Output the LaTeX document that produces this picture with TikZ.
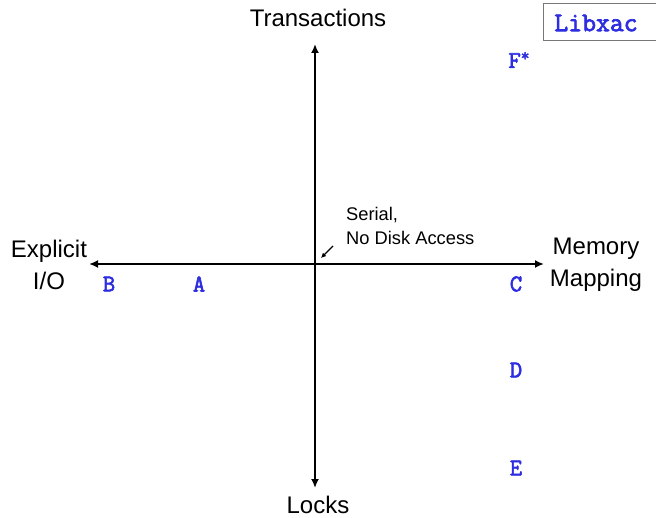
\documentclass[tikz,border=0pt]{standalone}
\usepackage{fontspec}
\setmainfont{Liberation Sans}
\newfontfamily\slabmono[FakeBold=2.6]{Latin Modern Mono}
\usetikzlibrary{arrows.meta}
\definecolor{letterblue}{RGB}{45,45,225}
\definecolor{boxgray}{RGB}{120,120,120}
\tikzset{
  axis/.style={line width=2.2pt, {Latex[length=9pt,width=8pt]}-{Latex[length=9pt,width=8pt]}},
  axislabel/.style={font=\fontsize{24}{32}\selectfont, align=center, inner sep=0pt},
  note/.style={font=\fontsize{18.3}{24}\selectfont, align=left, inner sep=0pt},
  letter/.style={font=\slabmono\fontsize{24}{24}\selectfont, text=letterblue, inner sep=0pt},
  pointer/.style={line width=1.4pt, -{Latex[length=5pt,width=5pt]}}
}
\begin{document}
\begin{tikzpicture}[x=1pt,y=-1pt]
\useasboundingbox (0,0) rectangle (656,518);
% axes
\coordinate (top) at (315,44);
\coordinate (bottom) at (315,488);
\coordinate (left) at (89,264);
\coordinate (right) at (544,264);
\draw[axis] (bottom) -- (top);
\draw[axis] (left) -- (right);
% axis labels
\node[axislabel] (trans) at (318,18) {Transactions};
\node[axislabel] (locks) at (318,505) {Locks};
\node[axislabel] (expl) at (49,265) {Explicit\\I/O};
\node[axislabel] (mmap) at (596,265) {Memory\\Mapping};
% note
\node[note, anchor=west] (serial) at (346,226) {Serial,\\No Disk Access};
\coordinate (ptip) at (321,258);
\coordinate (pstart) at (333,246);
\draw[pointer] (pstart) -- (ptip);
% Libxac box
\draw[boxgray, line width=1pt] (543,4) rectangle (662,41);
\node[letter, font=\slabmono\fontsize{27}{27}\selectfont] (libxac) at (596,23) {Libxac};
% letters
\node[letter] (B) at (109,284) {B};
\node[letter] (A) at (199,284) {A};
\node[letter] (C) at (516,284) {C};
\node[letter] (D) at (516,370) {D};
\node[letter] (E) at (516,468) {E};
\node[letter] (F) at (519,60) {F\raisebox{7pt}{\fontsize{17}{17}\selectfont *}};
\end{tikzpicture}
\end{document}
